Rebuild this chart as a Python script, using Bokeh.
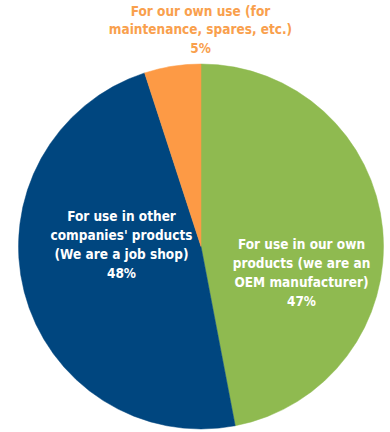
import math
from bokeh.plotting import figure
from bokeh.models import Range1d, ColumnDataSource
from bokeh.core.properties import value
from bokeh.embed import file_html
from bokeh.resources import INLINE

categories = ["For use in our own\nproducts (we are an\nOEM manufacturer)",
              "For use in other\ncompanies' products\n(We are a job shop)",
              "For our own use (for\nmaintenance, spares, etc.)"]
shares = [47, 48, 5]
colors = ["#8FBA50", "#00467F", "#FD9A45"]
label_colors = ["#FFFFFF", "#FFFFFF", "#F9A04D"]

W, H = 390, 432
cx, cy, r = 200.5, 432 - 246, 182.5

p = figure(width=W, height=H, output_backend="svg", toolbar_location=None,
           x_range=Range1d(0, W), y_range=Range1d(0, H), min_border=0)
p.axis.visible = False
p.grid.visible = False
p.outline_line_color = None
p.background_fill_color = "white"

total = sum(shares)
starts, ends = [], []
acc = 0.0
for v in shares:
    a0 = math.pi / 2 - 2 * math.pi * acc / total
    acc += v
    a1 = math.pi / 2 - 2 * math.pi * acc / total
    starts.append(a1)
    ends.append(a0)

src = ColumnDataSource(dict(x=[cx] * 3, y=[cy] * 3, s=starts, e=ends, c=colors))
p.wedge(x="x", y="y", radius=r, start_angle="s", end_angle="e",
        fill_color="c", line_color="c", line_width=0.5, source=src)

texts = [f"{c}\n{v}%" for c, v in zip(categories, shares)]
lx = [301, 121, 200]
ly = [432 - 272, 432 - 244, 432 - 29]
p.text(x=lx, y=ly, text=texts, text_color=label_colors,
       text_align="center", text_baseline="middle",
       text_font=value("DejaVu Sans Condensed, Liberation Sans"), text_font_style="bold",
       text_font_size="13.5px", text_line_height=1.17)

open("out.html", "w").write(file_html(p, INLINE))
